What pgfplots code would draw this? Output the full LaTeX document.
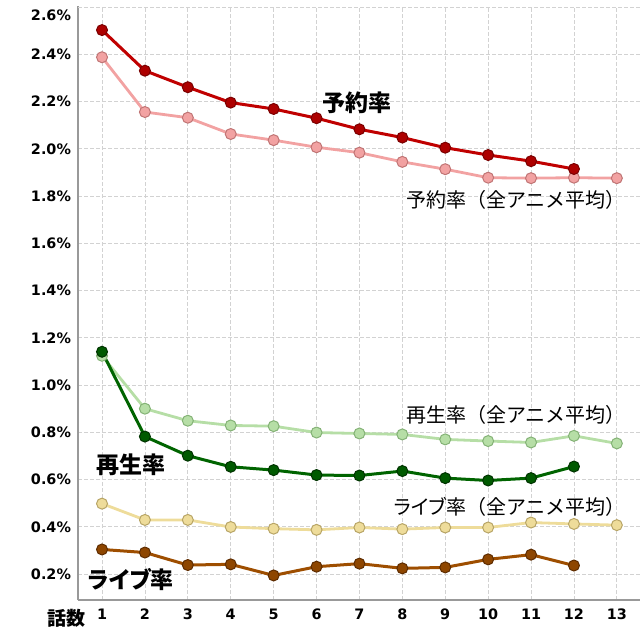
\documentclass[border=0pt]{standalone}
\usepackage{pgfplots}
\pgfplotsset{compat=1.18}
\usepackage{fontspec}
\setmainfont{DejaVu Sans}
\newfontfamily\jp{Noto Sans CJK JP}
\newfontfamily\jpp[RawFeature=+palt]{Noto Sans CJK JP}
\definecolor{yoyaku}{HTML}{C00000}
\definecolor{yoyakuD}{HTML}{7A0000}
\definecolor{yoyakuA}{HTML}{F2A2A2}
\definecolor{yoyakuAD}{HTML}{C07474}
\definecolor{saisei}{HTML}{006400}
\definecolor{saiseiD}{HTML}{003300}
\definecolor{saiseiA}{HTML}{B6DEA6}
\definecolor{saiseiAD}{HTML}{84B276}
\definecolor{liveA}{HTML}{EEDC9A}
\definecolor{liveAD}{HTML}{B8A566}
\definecolor{live}{HTML}{9E4E00}
\definecolor{liveD}{HTML}{5E2C00}
\begin{document}
\begin{tikzpicture}
\path[use as bounding box] (0,0) rectangle (320pt,320pt);
\begin{axis}[
  at={(39pt,20pt)}, anchor=south west,
  scale only axis, width=281pt, height=297pt,
  xmin=0.44, xmax=13.54, ymin=0.09, ymax=2.605,
  xtick={1,...,13}, ytick={0.2,0.4,...,2.41},
  extra y ticks={2.6},
  extra y tick style={grid=major, yticklabel style={yshift=-4pt}},
  major tick length=0pt,
  /pgf/number format/assume math mode=true,
  ticklabel style={font=\fontsize{7.2}{8}\selectfont\bfseries, text=black},
  yticklabel={\pgfmathprintnumber[fixed,precision=1,fixed zerofill]{\tick}\%},
  xticklabel style={yshift=-1pt},
  grid=major,
  major grid style={gray!35, dash pattern=on 2pt off 1pt, line width=0.4pt},
  axis x line*=bottom, axis y line*=left,
  axis line style={gray!80, line width=0.6pt, -},
  every axis plot/.append style={mark=*, mark size=2.75pt},
]
% averages
\addplot[yoyakuA, line width=1.4pt, mark options={fill=yoyakuA, draw=yoyakuAD, line width=0.5pt}] coordinates {
(1,2.388)(2,2.156)(3,2.132)(4,2.063)(5,2.037)(6,2.007)(7,1.984)(8,1.945)(9,1.914)(10,1.878)(11,1.876)(12,1.878)(13,1.876)};
\addplot[saiseiA, line width=1.4pt, mark options={fill=saiseiA, draw=saiseiAD, line width=0.5pt}] coordinates {
(1,1.124)(2,0.900)(3,0.849)(4,0.829)(5,0.826)(6,0.799)(7,0.795)(8,0.791)(9,0.770)(10,0.763)(11,0.757)(12,0.785)(13,0.753)};
\addplot[liveA, line width=1.4pt, mark options={fill=liveA, draw=liveAD, line width=0.5pt}] coordinates {
(1,0.498)(2,0.429)(3,0.429)(4,0.399)(5,0.392)(6,0.387)(7,0.397)(8,0.390)(9,0.397)(10,0.397)(11,0.418)(12,0.412)(13,0.407)};
% actual
\addplot[yoyaku, line width=1.5pt, mark options={fill=yoyaku!90!black, draw=yoyakuD, line width=0.5pt}] coordinates {
(1,2.503)(2,2.331)(3,2.261)(4,2.196)(5,2.169)(6,2.130)(7,2.083)(8,2.048)(9,2.005)(10,1.974)(11,1.948)(12,1.915)};
\addplot[saisei, line width=1.5pt, mark options={fill=saisei!90!black, draw=saiseiD, line width=0.5pt}] coordinates {
(1,1.141)(2,0.782)(3,0.701)(4,0.654)(5,0.640)(6,0.619)(7,0.617)(8,0.636)(9,0.606)(10,0.596)(11,0.606)(12,0.655)};
\addplot[live, line width=1.5pt, mark options={fill=live!90!black, draw=liveD, line width=0.5pt}] coordinates {
(1,0.304)(2,0.291)(3,0.238)(4,0.241)(5,0.194)(6,0.231)(7,0.244)(8,0.224)(9,0.228)(10,0.262)(11,0.282)(12,0.236)};
\end{axis}
\node[font=\jp\bfseries\fontsize{11.5}{12}\selectfont, inner sep=0pt] at (178.5pt,268.5pt) {予約率};
\node[font=\jp\fontsize{10}{11}\selectfont, anchor=east, inner sep=0pt] at (313pt,220pt) {予約率（全アニメ平均）};
\node[font=\jp\fontsize{10}{11}\selectfont, anchor=east, inner sep=0pt] at (313pt,112.5pt) {再生率（全アニメ平均）};
\node[font=\jp\fontsize{10}{11}\selectfont, anchor=east, inner sep=0pt] at (313pt,66.5pt) {{\jpp ライブ}率（全アニメ平均）};
\node[font=\jp\bfseries\fontsize{11.5}{12}\selectfont, inner sep=0pt] at (65.5pt,87.5pt) {再生率};
\node[font=\jp\bfseries\fontsize{11.5}{12}\selectfont, inner sep=0pt] at (65.5pt,30pt) {{\jpp\bfseries ライブ}率};
\node[font=\jp\bfseries\fontsize{9.5}{10}\selectfont, inner sep=0pt] at (33pt,11pt) {話数};
\end{tikzpicture}
\end{document}
